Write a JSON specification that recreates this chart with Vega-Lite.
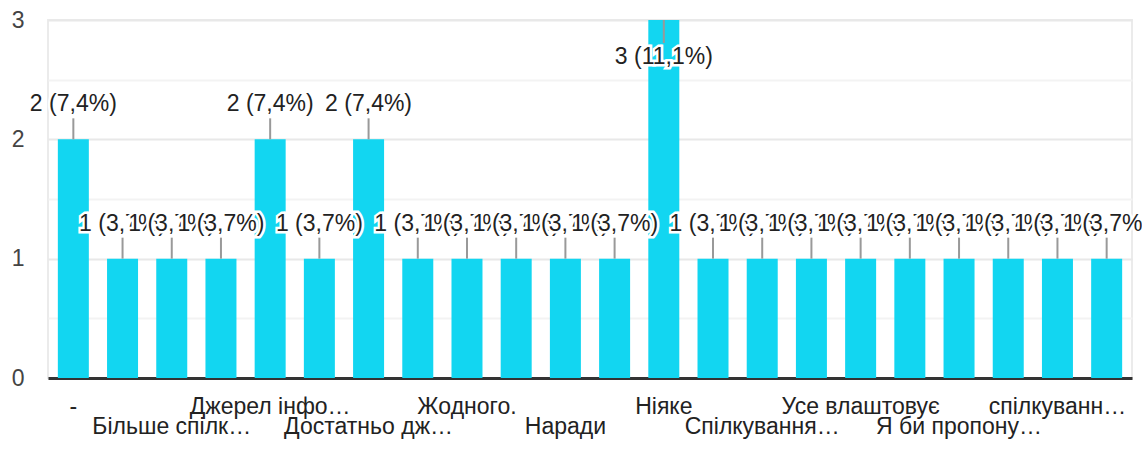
{
  "$schema": "https://vega.github.io/schema/vega-lite/v6.json",
  "width": 1084,
  "height": 358,
  "autosize": {"type": "none"},
  "padding": {"left": 48, "top": 20, "right": 10, "bottom": 77},
  "background": "white",
  "config": {
    "view": {"stroke": "#ebebeb", "strokeWidth": 2},
    "font": "Liberation Sans",
    "text": {"font": "Liberation Sans", "fontSize": 23, "baseline": "middle"}
  },
  "data": {
    "values": [
      {"key": "01|-", "n": 1, "count": 2, "label": "2 (7,4%)"},
      {"key": "02|", "n": 2, "count": 1, "label": "1 (3,7%)"},
      {"key": "03|Більше спілк…", "n": 3, "count": 1, "label": "1 (3,7%)"},
      {"key": "04|", "n": 4, "count": 1, "label": "1 (3,7%)"},
      {"key": "05|Джерел інфо…", "n": 5, "count": 2, "label": "2 (7,4%)"},
      {"key": "06|", "n": 6, "count": 1, "label": "1 (3,7%)"},
      {"key": "07|Достатньо дж…", "n": 7, "count": 2, "label": "2 (7,4%)"},
      {"key": "08|", "n": 8, "count": 1, "label": "1 (3,7%)"},
      {"key": "09|Жодного.", "n": 9, "count": 1, "label": "1 (3,7%)"},
      {"key": "10|", "n": 10, "count": 1, "label": "1 (3,7%)"},
      {"key": "11|Наради", "n": 11, "count": 1, "label": "1 (3,7%)"},
      {"key": "12|", "n": 12, "count": 1, "label": "1 (3,7%)"},
      {"key": "13|Ніяке", "n": 13, "count": 3, "label": "3 (11,1%)"},
      {"key": "14|", "n": 14, "count": 1, "label": "1 (3,7%)"},
      {"key": "15|Спілкування…", "n": 15, "count": 1, "label": "1 (3,7%)"},
      {"key": "16|", "n": 16, "count": 1, "label": "1 (3,7%)"},
      {"key": "17|Усе влаштовує", "n": 17, "count": 1, "label": "1 (3,7%)"},
      {"key": "18|", "n": 18, "count": 1, "label": "1 (3,7%)"},
      {"key": "19|Я би пропону…", "n": 19, "count": 1, "label": "1 (3,7%)"},
      {"key": "20|", "n": 20, "count": 1, "label": "1 (3,7%)"},
      {"key": "21|спілкуванн…", "n": 21, "count": 1, "label": "1 (3,7%)"},
      {"key": "22|", "n": 22, "count": 1, "label": "1 (3,7%)"}
    ]
  },
  "encoding": {
    "x": {
      "field": "key",
      "type": "nominal",
      "sort": null,
      "scale": {"paddingInner": 0.37, "paddingOuter": 0.2},
      "axis": {
        "title": null,
        "labelAngle": 0,
        "labelExpr": "split(datum.label, '|')[1]",
        "labelFont": "Liberation Sans",
        "labelFontSize": 23,
        "labelColor": "#222222",
        "labelBaseline": "middle",
        "labelLimit": 300,
        "labelOverlap": false,
        "labelPadding": {"condition": {"test": "indexof(['01','05','09','13','17','21'], slice(datum.value, 0, 2)) >= 0", "value": 28}, "value": 48},
        "ticks": false,
        "domainColor": "#333333",
        "domainWidth": 3,
        "grid": false
      }
    },
    "y": {
      "field": "count",
      "type": "quantitative",
      "scale": {"domain": [0, 3], "nice": false},
      "axis": {
        "title": null,
        "values": [0, 0.5, 1, 1.5, 2, 2.5, 3],
        "labelExpr": "datum.value % 1 == 0 ? '' + datum.value : ''",
        "labelFont": "Liberation Sans",
        "labelFontSize": 23,
        "labelColor": "#444444",
        "labelPadding": 24,
        "ticks": false,
        "domain": false,
        "gridColor": {"condition": {"test": "datum.value % 1 == 0", "value": "#e8e8e8"}, "value": "#f3f3f3"},
        "gridWidth": 2
      }
    }
  },
  "layer": [
    {"mark": {"type": "bar", "color": "#12d6f1"}},
    {
      "transform": [{"filter": "datum.count < 3"}],
      "mark": {"type": "rule", "color": "#999999", "strokeWidth": 2, "y2Offset": -21},
      "encoding": {"y2": {"field": "count"}}
    },
    {
      "transform": [{"filter": "datum.count == 3"}],
      "mark": {"type": "rule", "color": "#999999", "strokeWidth": 2, "y2Offset": 23},
      "encoding": {"y2": {"field": "count"}}
    },
    {
      "transform": [{"filter": "datum.count == 3"}],
      "mark": {"type": "text", "dy": 37, "stroke": "white", "strokeWidth": 5, "fill": "white"},
      "encoding": {"text": {"field": "label"}}
    },
    {
      "transform": [{"filter": "datum.count == 3"}],
      "mark": {"type": "text", "dy": 37, "fill": "#222222"},
      "encoding": {"text": {"field": "label"}}
    },
    {"transform": [{"filter": "indexof([1,2,5,6,7,8,14], datum.n) >= 0"}], "mark": {"type": "text", "dy": -35, "stroke": "white", "strokeWidth": 5, "fill": "white"}, "encoding": {"text": {"field": "label"}}},
    {"transform": [{"filter": "indexof([1,2,5,6,7,8,14], datum.n) >= 0"}], "mark": {"type": "text", "dy": -35, "fill": "#222222"}, "encoding": {"text": {"field": "label"}}},
    {"transform": [{"filter": "indexof([3,9,15], datum.n) >= 0"}], "mark": {"type": "text", "dy": -35, "stroke": "white", "strokeWidth": 5, "fill": "white"}, "encoding": {"text": {"field": "label"}}},
    {"transform": [{"filter": "indexof([3,9,15], datum.n) >= 0"}], "mark": {"type": "text", "dy": -35, "fill": "#222222"}, "encoding": {"text": {"field": "label"}}},
    {"transform": [{"filter": "indexof([4,10,16], datum.n) >= 0"}], "mark": {"type": "text", "dy": -35, "stroke": "white", "strokeWidth": 5, "fill": "white"}, "encoding": {"text": {"field": "label"}}},
    {"transform": [{"filter": "indexof([4,10,16], datum.n) >= 0"}], "mark": {"type": "text", "dy": -35, "fill": "#222222"}, "encoding": {"text": {"field": "label"}}},
    {"transform": [{"filter": "indexof([11,17], datum.n) >= 0"}], "mark": {"type": "text", "dy": -35, "stroke": "white", "strokeWidth": 5, "fill": "white"}, "encoding": {"text": {"field": "label"}}},
    {"transform": [{"filter": "indexof([11,17], datum.n) >= 0"}], "mark": {"type": "text", "dy": -35, "fill": "#222222"}, "encoding": {"text": {"field": "label"}}},
    {"transform": [{"filter": "indexof([12,18], datum.n) >= 0"}], "mark": {"type": "text", "dy": -35, "stroke": "white", "strokeWidth": 5, "fill": "white"}, "encoding": {"text": {"field": "label"}}},
    {"transform": [{"filter": "indexof([12,18], datum.n) >= 0"}], "mark": {"type": "text", "dy": -35, "fill": "#222222"}, "encoding": {"text": {"field": "label"}}},
    {"transform": [{"filter": "datum.n == 19"}], "mark": {"type": "text", "dy": -35, "stroke": "white", "strokeWidth": 5, "fill": "white"}, "encoding": {"text": {"field": "label"}}},
    {"transform": [{"filter": "datum.n == 19"}], "mark": {"type": "text", "dy": -35, "fill": "#222222"}, "encoding": {"text": {"field": "label"}}},
    {"transform": [{"filter": "datum.n == 20"}], "mark": {"type": "text", "dy": -35, "stroke": "white", "strokeWidth": 5, "fill": "white"}, "encoding": {"text": {"field": "label"}}},
    {"transform": [{"filter": "datum.n == 20"}], "mark": {"type": "text", "dy": -35, "fill": "#222222"}, "encoding": {"text": {"field": "label"}}},
    {"transform": [{"filter": "datum.n == 21"}], "mark": {"type": "text", "dy": -35, "stroke": "white", "strokeWidth": 5, "fill": "white"}, "encoding": {"text": {"field": "label"}}},
    {"transform": [{"filter": "datum.n == 21"}], "mark": {"type": "text", "dy": -35, "fill": "#222222"}, "encoding": {"text": {"field": "label"}}},
    {"transform": [{"filter": "datum.n == 22"}], "mark": {"type": "text", "dy": -35, "stroke": "white", "strokeWidth": 5, "fill": "white"}, "encoding": {"text": {"field": "label"}}},
    {"transform": [{"filter": "datum.n == 22"}], "mark": {"type": "text", "dy": -35, "fill": "#222222"}, "encoding": {"text": {"field": "label"}}}
  ]
}
